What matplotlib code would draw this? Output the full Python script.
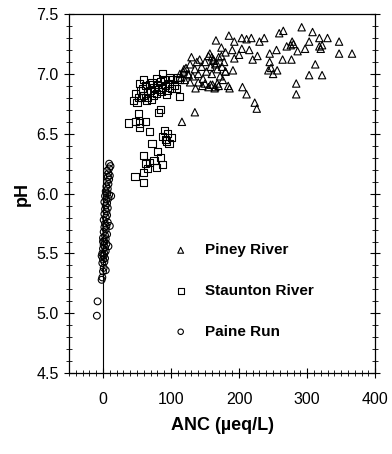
import matplotlib
matplotlib.use("Agg")
import matplotlib.pyplot as plt
from matplotlib.ticker import MultipleLocator

plt.rcParams['font.family'] = ['Liberation Sans', 'DejaVu Sans']

# Piney River (triangles)
piney_anc = [115,118,120,122,125,128,130,132,135,138,140,142,145,147,150,152,155,157,158,160,
             162,165,168,170,172,175,178,180,176,161,150,140,128,136,146,155,116,135,166,174,
             185,193,204,211,218,230,237,204,215,174,193,220,227,245,255,270,278,280,276,286,
             297,303,318,330,347,318,320,322,347,366,312,303,322,284,284,264,277,245,243,256,
             247,250,191,180,186,205,211,223,226,292,308,259,265,180,190,200,170,184,164,168,
             113,119,126,160,163,167,158,165]
piney_ph = [6.97,7.02,6.95,7.05,7.00,7.08,7.14,6.98,7.04,7.10,7.00,7.12,7.06,6.96,7.10,7.02,7.15,7.17,7.06,7.00,
            7.12,7.08,7.04,7.14,6.98,7.06,7.10,7.02,6.95,6.91,6.92,6.93,6.93,6.88,6.90,6.89,6.60,6.68,7.28,7.22,
            7.32,7.27,7.30,7.29,7.30,7.27,7.30,7.21,7.20,7.15,7.13,7.12,7.15,7.17,7.20,7.23,7.27,7.25,7.24,7.19,
            7.21,7.27,7.30,7.30,7.27,7.23,7.21,7.24,7.17,7.17,7.08,6.99,6.99,6.92,6.83,7.12,7.12,7.10,7.03,7.03,
            7.05,7.00,7.03,7.02,6.88,6.89,6.83,6.76,6.71,7.39,7.35,7.34,7.36,7.18,7.20,7.16,6.90,6.90,6.88,6.92,
            7.00,7.04,6.99,7.14,7.11,7.09,6.91,6.89]

# Staunton River (squares)
staunton_anc = [37,48,54,63,69,50,52,81,84,54,
                72,88,92,95,97,100,90,93,59,69,84,88,59,47,59,66,75,78,62,80,
                45,48,52,55,58,60,62,65,57,53,68,70,72,75,78,80,82,85,88,90,
                92,95,97,100,102,105,88,110,113,113,60,66,74,98,93,108,64,79,71,86]
staunton_ph = [6.59,6.60,6.59,6.60,6.52,6.76,6.67,6.68,6.70,6.55,
               6.42,6.48,6.45,6.50,6.42,6.47,6.53,6.44,6.32,6.26,6.30,6.24,6.18,6.14,6.09,6.21,6.28,6.22,6.25,6.35,
               6.78,6.84,6.80,6.86,6.88,6.82,6.90,6.85,6.80,6.92,6.91,6.86,6.93,6.89,6.84,6.91,6.87,6.94,6.89,6.95,
               6.90,6.86,6.92,6.88,6.95,6.90,7.00,6.97,6.81,6.95,6.95,6.80,6.82,6.97,6.83,6.88,6.78,6.96,6.79,6.85]

# Paine Run (circles)
paine_anc = [-9,-8,-2,-1,0,1,-1,2,0,3,1,-1,2,4,0,3,1,5,2,4,0,3,6,1,4,2,5,3,7,1,
             4,6,2,5,3,7,4,6,2,5,8,3,6,9,4,7,5,8,6,9,7,10,8,6,9,11,9,12,10,8,4,0,-2]
paine_ph = [4.98,5.10,5.28,5.30,5.35,5.38,5.42,5.43,5.45,5.46,5.48,5.50,5.50,5.52,5.54,5.55,5.57,5.58,5.60,5.62,
            5.63,5.65,5.66,5.68,5.70,5.72,5.73,5.75,5.76,5.78,5.80,5.82,5.83,5.85,5.87,5.88,5.90,5.92,5.93,5.95,
            5.96,5.98,6.00,5.99,6.02,6.04,6.06,6.08,6.10,6.12,6.14,6.15,6.17,6.19,6.21,6.23,6.25,5.98,5.73,5.56,
            5.36,5.60,5.48]

fig = plt.figure(figsize=(3.92, 4.54), dpi=100)
ax = fig.add_axes([0.176, 0.178, 0.781, 0.791])

kw = dict(facecolor='none', edgecolors='black', linewidths=0.8)
ax.scatter(piney_anc, piney_ph, marker='^', s=28, label='Piney River', **kw)
ax.scatter(staunton_anc, staunton_ph, marker='s', s=26, label='Staunton River', **kw)
ax.scatter(paine_anc, paine_ph, marker='o', s=24, label='Paine Run', **kw)

ax.axvline(0, color='black', lw=0.8)

ax.set_xlim(-50, 400)
ax.set_ylim(4.5, 7.5)
ax.xaxis.set_major_locator(MultipleLocator(100))
ax.xaxis.set_minor_locator(MultipleLocator(10))
ax.yaxis.set_major_locator(MultipleLocator(0.5))
ax.yaxis.set_minor_locator(MultipleLocator(0.1))
ax.yaxis.set_major_formatter(matplotlib.ticker.FormatStrFormatter('%.1f'))
ax.tick_params(which='major', direction='inout', length=7, width=0.8, labelsize=11.5,
               right=True, top=False)
ax.tick_params(which='minor', direction='inout', length=4, width=0.6, right=True, top=False)
ax.tick_params(axis='x', pad=10)
ax.tick_params(axis='y', pad=4)
for sp in ax.spines.values():
    sp.set_linewidth(0.9)

ax.set_xlabel('ANC (µeq/L)', fontsize=13, fontweight='bold', labelpad=7)
ax.set_ylabel('pH', fontsize=13, fontweight='bold', labelpad=4)

ax.legend(loc='upper left', bbox_to_anchor=(0.27, 0.40), frameon=False,
          labelspacing=1.75, handletextpad=0.6, markerscale=0.8,
          prop={'weight': 'bold', 'size': 11})

fig.savefig('out.png', dpi=100)
